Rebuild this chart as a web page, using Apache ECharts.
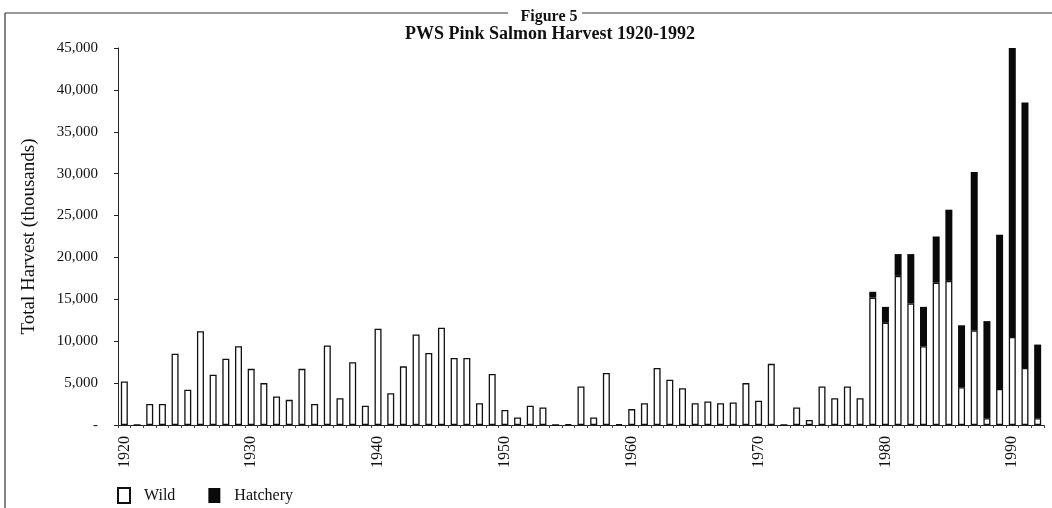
<!DOCTYPE html>
<html>
<head>
<meta charset="utf-8">
<script src="https://cdn.jsdelivr.net/npm/echarts@6/dist/echarts.min.js"></script>
<style>
  html, body { margin: 0; padding: 0; background: #fff; }
  #chart { width: 1052px; height: 508px; }
</style>
</head>
<body>
<div id="chart"></div>
<script>
// harvest in thousands of fish
const years = ['1920','1921','1922','1923','1924','1925','1926','1927','1928','1929',
  '1930','1931','1932','1933','1934','1935','1936','1937','1938','1939',
  '1940','1941','1942','1943','1944','1945','1946','1947','1948','1949',
  '1950','1951','1952','1953','1954','1955','1956','1957','1958','1959',
  '1960','1961','1962','1963','1964','1965','1966','1967','1968','1969',
  '1970','1971','1972','1973','1974','1975','1976','1977','1978','1979',
  '1980','1981','1982','1983','1984','1985','1986','1987','1988','1989',
  '1990','1991','1992'];

const wild = [5200, 0, 2500, 2500, 8500, 4200, 11200, 6000, 7900, 9400,
  6700, 5000, 3400, 3000, 6700, 2500, 9500, 3200, 7500, 2300,
  11500, 3800, 7000, 10800, 8600, 11600, 8000, 8000, 2600, 6100,
  1800, 900, 2300, 2100, 0, 100, 4600, 900, 6200, 100,
  1900, 2600, 6800, 5400, 4400, 2600, 2800, 2600, 2700, 5000,
  2900, 7300, 0, 2100, 600, 4600, 3200, 4600, 3200, 15200,
  12200, 17800, 14500, 9400, 17000, 17200, 4500, 11300, 800, 4300,
  10500, 6800, 800];

const hatchery = [0, 0, 0, 0, 0, 0, 0, 0, 0, 0,
  0, 0, 0, 0, 0, 0, 0, 0, 0, 0,
  0, 0, 0, 0, 0, 0, 0, 0, 0, 0,
  0, 0, 0, 0, 0, 0, 0, 0, 0, 0,
  0, 0, 0, 0, 0, 0, 0, 0, 0, 0,
  0, 0, 0, 0, 0, 0, 0, 0, 0, 700,
  1900, 2600, 5900, 4700, 5500, 8500, 7400, 18900, 11600, 18400,
  34500, 31700, 8800];

const font = 'Liberation Serif';

const chart = echarts.init(document.getElementById('chart'));
chart.setOption({
  animation: false,
  backgroundColor: '#fff',
  textStyle: { fontFamily: font, color: '#111' },
  title: [
    {
      text: 'Figure 5',
      left: 544, top: 4, textAlign: 'center',
      textStyle: { fontFamily: font, fontSize: 16, fontWeight: 'bold', color: '#111' }
    },
    {
      text: 'PWS Pink Salmon Harvest 1920-1992',
      left: 545, top: 20, textAlign: 'center',
      textStyle: { fontFamily: font, fontSize: 18, fontWeight: 'bold', color: '#111' }
    }
  ],
  graphic: [
    { type: 'line', shape: { x1: 5, y1: 13, x2: 508, y2: 13 }, style: { stroke: '#333', lineWidth: 1.2 } },
    { type: 'line', shape: { x1: 582, y1: 13, x2: 1052, y2: 13 }, style: { stroke: '#333', lineWidth: 1.2 } },
    { type: 'line', shape: { x1: 5, y1: 13, x2: 5, y2: 508 }, style: { stroke: '#333', lineWidth: 1.2 } }
  ],
  legend: {
    left: 112, top: 482,
    itemWidth: 12, itemHeight: 15, itemGap: 33,
    icon: 'rect',
    textStyle: { fontFamily: font, fontSize: 16, color: '#111', padding: [0, 0, 0, 9] },
    data: ['Wild', 'Hatchery']
  },
  grid: { left: 118, right: 8, top: 48, bottom: 83 },
  xAxis: {
    type: 'category',
    data: years,
    axisLine: { lineStyle: { color: '#222', width: 1 } },
    axisTick: { show: true, length: 3, interval: 0, lineStyle: { color: '#444' } },
    axisLabel: {
      rotate: 90,
      margin: 11,
      fontFamily: font, fontSize: 16, color: '#111',
      interval: function (i, v) { return (parseInt(v) - 1920) % 10 === 0; }
    }
  },
  yAxis: {
    type: 'value',
    min: 0, max: 45000, interval: 5000,
    name: 'Total Harvest (thousands)',
    nameLocation: 'middle',
    nameGap: 79,
    nameTextStyle: { fontFamily: font, fontSize: 19, color: '#111' },
    axisLine: { show: true, lineStyle: { color: '#222', width: 1 } },
    axisTick: { show: true, length: 4, lineStyle: { color: '#222' } },
    splitLine: { show: false },
    axisLabel: {
      margin: 20,
      fontFamily: font, fontSize: 15, color: '#111',
      formatter: function (v) { return v === 0 ? '-' : v.toLocaleString('en-US'); }
    }
  },
  series: [
    {
      name: 'Wild',
      type: 'bar',
      stack: 'total',
      barWidth: 7,
      data: wild,
      itemStyle: { color: '#fff', borderColor: '#111', borderWidth: 1.3 }
    },
    {
      name: 'Hatchery',
      type: 'bar',
      stack: 'total',
      barWidth: 7,
      data: hatchery,
      itemStyle: { color: '#0a0a0a', borderColor: '#0a0a0a', borderWidth: 0 }
    }
  ]
});
</script>
</body>
</html>
